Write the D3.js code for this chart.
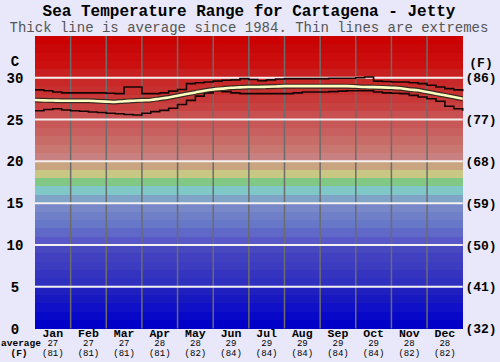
<!DOCTYPE html>
<html>
<head>
<meta charset="utf-8">
<script src="https://cdn.jsdelivr.net/npm/d3@7"></script>
<style>
  html, body { margin: 0; padding: 0; background: #e8e8fa; }
  svg { display: block; }
</style>
</head>
<body>
<div id="chart"></div>
<script>
// month names and monthly averages
const months = ['Jan', 'Feb', 'Mar', 'Apr', 'May', 'Jun', 'Jul', 'Aug', 'Sep', 'Oct', 'Nov', 'Dec'];
const monthAvgC = [27, 27, 27, 28, 28, 29, 29, 29, 29, 29, 28, 28];
const monthAvgF = [81, 81, 81, 81, 82, 84, 84, 84, 84, 84, 82, 82];

// axis ticks
const celsiusTicks = [0, 5, 10, 15, 20, 25, 30];
const fahrenheitTicks = ['(32)', '(41)', '(50)', '(59)', '(68)', '(77)', '(86)'];

// position along the year, in months (quarter month steps)
const yearPos = d3.range(0, 12.01, 0.25);

// max, min and average sea temperature (C)
const maxTemp = [28.55, 28.45, 28.3, 28.2, 28.2, 28.2, 28.2, 28.2, 28.15, 28.1, 28.9, 28.9, 28.1,
  28.1, 28.2, 28.4, 28.6, 29.3, 29.4, 29.5, 29.6, 29.7, 29.75, 29.9, 29.8, 29.65, 29.75, 29.85,
  29.9, 29.9, 29.9, 29.9, 29.9, 29.95, 29.95, 29.95, 30.0, 30.1, 29.6, 29.55, 29.5, 29.5, 29.4,
  29.3, 29.1, 28.9, 28.7, 28.55, 28.4];
const minTemp = [26.05, 26.2, 26.3, 26.15, 26.05, 26.0, 25.9, 25.85, 25.75, 25.7, 25.6, 25.55, 25.75,
  25.95, 26.1, 26.35, 26.8, 27.3, 27.8, 28.2, 28.45, 28.35, 28.2, 28.1, 28.1, 28.1, 28.1, 28.1,
  28.1, 28.2, 28.3, 28.3, 28.3, 28.35, 28.4, 28.45, 28.45, 28.45, 28.3, 28.2, 28.15, 28.1, 27.9,
  27.7, 27.5, 27.2, 26.6, 26.3, 26.05];
const avgTemp = [27.35, 27.3, 27.28, 27.25, 27.25, 27.25, 27.25, 27.2, 27.15, 27.1, 27.2, 27.25, 27.3,
  27.35, 27.5, 27.65, 27.85, 28.05, 28.25, 28.45, 28.6, 28.7, 28.8, 28.85, 28.9, 28.9, 28.92, 28.95,
  29.0, 29.0, 29.0, 29.0, 29.0, 29.0, 29.0, 29.0, 28.95, 28.9, 28.88, 28.85, 28.8, 28.75, 28.6,
  28.5, 28.3, 28.1, 27.9, 27.7, 27.5];

// one colour per degree, 0 .. 34
const bandColors = [
  '#0000c8', '#0808c8', '#1010c8', '#1818c0', '#2020c0',
  '#3030c0', '#3434c0', '#3c3cc0', '#4040c0', '#4848c0',
  '#5858c8', '#6068c8', '#6878c8', '#7080c8', '#7888c8',
  '#80a4c8', '#80c8c8', '#80c884', '#c8c884', '#c8a480',
  '#c88080', '#c87870', '#c86c68', '#c86060', '#c85858',
  '#c85050', '#c84040', '#c83838', '#c83030', '#c82828',
  '#c82020', '#cc1010', '#cc0c0c', '#c80808', '#cc0000'
];

const W = 500, H = 362;
const margin = { top: 36, right: 37.3, bottom: 33.5, left: 35 };
const width = W - margin.left - margin.right;
const height = H - margin.top - margin.bottom;

const svg = d3.select('#chart')
  .append('svg')
  .attr('width', W)
  .attr('height', H)
  .style('background-color', '#e8e8fa');

const x = d3.scaleLinear().domain([0, 12]).range([margin.left, margin.left + width]);
const y = d3.scaleLinear().domain([0, 35]).range([margin.top + height, margin.top]);

// background colour bands
svg.append('g')
  .selectAll('rect')
  .data(bandColors)
  .enter()
  .append('rect')
  .attr('x', x(0))
  .attr('width', x(12) - x(0))
  .attr('y', (d, i) => y(i + 1))
  .attr('height', (d, i) => y(i) - y(i + 1))
  .attr('fill', d => d)
  .attr('shape-rendering', 'crispEdges');

// vertical month lines
svg.append('g')
  .selectAll('line')
  .data(d3.range(1, 12))
  .enter()
  .append('line')
  .attr('x1', d => x(d)).attr('x2', d => x(d))
  .attr('y1', y(35)).attr('y2', y(0))
  .attr('stroke', '#6c6c6c')
  .attr('stroke-width', 1.5);

// horizontal white lines
svg.append('g')
  .selectAll('line')
  .data(celsiusTicks.filter(d => d > 0))
  .enter()
  .append('line')
  .attr('x1', x(0)).attr('x2', x(12))
  .attr('y1', d => y(d)).attr('y2', d => y(d))
  .attr('stroke', '#f4f0f0')
  .attr('stroke-width', 2);

const pts = arr => arr.map((v, i) => [yearPos[i], v]);

const stepLine = d3.line()
  .x(d => x(d[0]))
  .y(d => y(d[1]))
  .curve(d3.curveStepAfter);

const smoothLine = d3.line()
  .x(d => x(d[0]))
  .y(d => y(d[1]))
  .curve(d3.curveMonotoneX);

// extremes
[maxTemp, minTemp].forEach(arr => {
  svg.append('path')
    .attr('d', stepLine(pts(arr)))
    .attr('fill', 'none')
    .attr('stroke', '#140404')
    .attr('stroke-width', 1.6);
});

// average: dark outline + pale yellow core
svg.append('path')
  .attr('d', smoothLine(pts(avgTemp)))
  .attr('fill', 'none')
  .attr('stroke', '#3a2a20')
  .attr('stroke-width', 5);
svg.append('path')
  .attr('d', smoothLine(pts(avgTemp)))
  .attr('fill', 'none')
  .attr('stroke', '#ffffc4')
  .attr('stroke-width', 2.6);

const mono = "'Liberation Mono', 'Courier New', monospace";

// titles
svg.append('text')
  .attr('x', 249).attr('y', 15.5)
  .attr('text-anchor', 'middle')
  .attr('font-family', mono)
  .attr('font-weight', 'bold')
  .attr('font-size', '16px')
  .attr('fill', '#000')
  .text('Sea Temperature Range for Cartagena - Jetty');

svg.append('text')
  .attr('x', 249).attr('y', 32)
  .attr('text-anchor', 'middle')
  .attr('font-family', mono)
  .attr('font-size', '14px')
  .attr('fill', '#555')
  .text('Thick line is average since 1984. Thin lines are extremes');

// left axis (C)
const leftAxis = svg.append('g');
leftAxis.selectAll('text')
  .data(celsiusTicks)
  .enter()
  .append('text')
  .attr('x', 15)
  .attr('y', d => y(d))
  .attr('dy', '0.36em')
  .attr('text-anchor', 'middle')
  .attr('font-family', mono)
  .attr('font-weight', 'bold')
  .attr('font-size', '14px')
  .text(d => d);
leftAxis.append('text')
  .attr('x', 15).attr('y', 61).attr('dy', '0.36em')
  .attr('text-anchor', 'middle')
  .attr('font-family', mono)
  .attr('font-weight', 'bold')
  .attr('font-size', '14px')
  .text('C');

// right axis (F)
const rightAxis = svg.append('g');
rightAxis.selectAll('text')
  .data(fahrenheitTicks)
  .enter()
  .append('text')
  .attr('x', 481)
  .attr('y', (d, i) => y(celsiusTicks[i]))
  .attr('dy', '0.36em')
  .attr('text-anchor', 'middle')
  .attr('font-family', mono)
  .attr('font-weight', 'bold')
  .attr('font-size', '13px')
  .text(d => d);
rightAxis.append('text')
  .attr('x', 481).attr('y', 62).attr('dy', '0.36em')
  .attr('text-anchor', 'middle')
  .attr('font-family', mono)
  .attr('font-weight', 'bold')
  .attr('font-size', '13px')
  .text('(F)');

// month labels and averages
const monthG = svg.append('g')
  .selectAll('g')
  .data(months)
  .enter()
  .append('g')
  .attr('transform', (d, i) => `translate(${x(i + 0.5)},0)`);

monthG.append('text')
  .attr('y', 337)
  .attr('text-anchor', 'middle')
  .attr('font-family', mono)
  .attr('font-weight', 'bold')
  .attr('font-size', '11.5px')
  .text(d => d);
monthG.append('text')
  .attr('y', 346)
  .attr('text-anchor', 'middle')
  .attr('font-family', mono)
  .attr('font-size', '9px')
  .text((d, i) => monthAvgC[i]);
monthG.append('text')
  .attr('y', 356)
  .attr('text-anchor', 'middle')
  .attr('font-family', mono)
  .attr('font-size', '9px')
  .text((d, i) => `(${monthAvgF[i]})`);

svg.append('text')
  .attr('x', 21).attr('y', 346)
  .attr('text-anchor', 'middle')
  .attr('font-family', mono)
  .attr('font-weight', 'bold')
  .attr('font-size', '9.5px')
  .text('average');
svg.append('text')
  .attr('x', 19).attr('y', 356)
  .attr('text-anchor', 'middle')
  .attr('font-family', mono)
  .attr('font-weight', 'bold')
  .attr('font-size', '9.5px')
  .text('(F)');
</script>
</body>
</html>
